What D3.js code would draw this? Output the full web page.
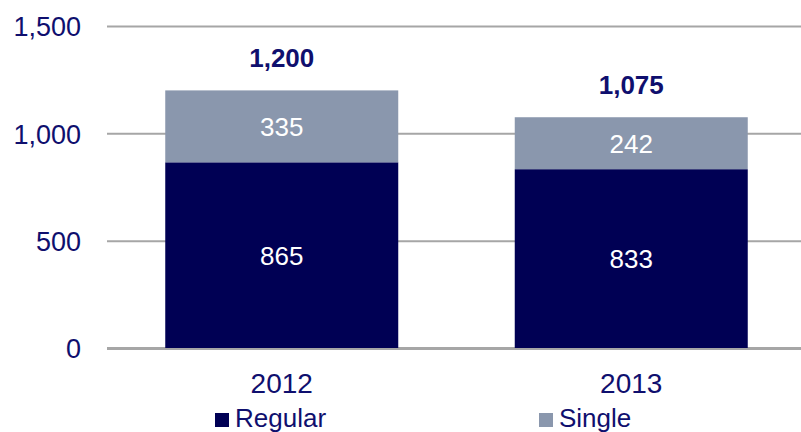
<!DOCTYPE html>
<html>
<head>
<meta charset="utf-8">
<script src="https://cdn.jsdelivr.net/npm/d3@7"></script>
<style>
  body { margin: 0; background: #fff; }
  text { font-family: "Liberation Sans", Arial, sans-serif; }
</style>
</head>
<body>
<script>
// chart values
var years = ["2012", "2013"];
var regular = [865, 833];
var single = [335, 242];
var totals = [1200, 1075];
var yTicks = [0, 500, 1000, 1500];
var seriesNames = ["Regular", "Single"];

var width = 801, height = 432;
var navy = "#000054", grey = "#8a97ad", textCol = "#0f0f6e";

var svg = d3.select("body").append("svg")
  .attr("width", width)
  .attr("height", height);

var x = d3.scaleBand()
  .domain(years)
  .range([107, 806])
  .paddingInner(1/3)
  .paddingOuter(1/6);

var y = d3.scaleLinear()
  .domain([0, 1500])
  .range([348, 26]);

// gridlines + tick labels
var yAxis = d3.axisLeft(y)
  .tickValues(yTicks)
  .tickFormat(d3.format(","))
  .tickSize(-(width - 107))
  .tickPadding(26);

var gy = svg.append("g")
  .attr("transform", "translate(107,0)")
  .call(yAxis);
gy.select(".domain").remove();
gy.selectAll(".tick line")
  .attr("stroke", "#a6a6a6")
  .attr("stroke-width", function(d) { return d == 0 ? 3 : 2; });
gy.selectAll(".tick text")
  .attr("fill", textCol)
  .attr("font-size", 27)
  .attr("dy", "0.36em");

var data = years.map(function(yr, i) {
  return {year: yr, regular: regular[i], single: single[i], total: totals[i]};
});

var bars = svg.selectAll("g.bar")
  .data(data)
  .enter()
  .append("g")
  .attr("class", "bar");

bars.append("rect")
  .attr("x", function(d) { return x(d.year); })
  .attr("width", x.bandwidth())
  .attr("y", function(d) { return y(d.regular); })
  .attr("height", function(d) { return y(0) - y(d.regular); })
  .attr("fill", navy);

bars.append("rect")
  .attr("x", function(d) { return x(d.year); })
  .attr("width", x.bandwidth())
  .attr("y", function(d) { return y(d.regular + d.single); })
  .attr("height", function(d) { return y(d.regular) - y(d.regular + d.single); })
  .attr("fill", grey);

// segment labels
bars.append("text")
  .attr("x", function(d) { return x(d.year) + x.bandwidth() / 2; })
  .attr("y", function(d) { return (y(0) + y(d.regular)) / 2; })
  .attr("dy", "0.36em")
  .attr("text-anchor", "middle")
  .attr("font-size", 26)
  .attr("fill", "#fff")
  .text(function(d) { return d.regular; });

bars.append("text")
  .attr("x", function(d) { return x(d.year) + x.bandwidth() / 2; })
  .attr("y", function(d) { return (y(d.regular) + y(d.regular + d.single)) / 2; })
  .attr("dy", "0.36em")
  .attr("text-anchor", "middle")
  .attr("font-size", 26)
  .attr("fill", "#fff")
  .text(function(d) { return d.single; });

// totals above bars
bars.append("text")
  .attr("x", function(d) { return x(d.year) + x.bandwidth() / 2; })
  .attr("y", function(d) { return y(d.total) - 23; })
  .attr("text-anchor", "middle")
  .attr("font-size", 26)
  .attr("font-weight", "bold")
  .attr("fill", textCol)
  .text(function(d) { return d3.format(",")(d.total); });

// year labels
svg.selectAll("text.year")
  .data(years)
  .enter()
  .append("text")
  .attr("class", "year")
  .attr("x", function(d) { return x(d) + x.bandwidth() / 2; })
  .attr("y", 393)
  .attr("text-anchor", "middle")
  .attr("font-size", 28)
  .attr("fill", textCol)
  .text(function(d) { return d; });

// legend
var legendX = [215, 539];
var legend = svg.selectAll("g.legend")
  .data(seriesNames)
  .enter()
  .append("g")
  .attr("class", "legend")
  .attr("transform", function(d, i) { return "translate(" + legendX[i] + ",0)"; });

legend.append("rect")
  .attr("x", 0)
  .attr("y", 413)
  .attr("width", 14)
  .attr("height", 14)
  .attr("fill", function(d, i) { return i == 0 ? navy : grey; });

legend.append("text")
  .attr("x", 20)
  .attr("y", 427)
  .attr("font-size", 26)
  .attr("fill", textCol)
  .text(function(d) { return d; });
</script>
</body>
</html>
